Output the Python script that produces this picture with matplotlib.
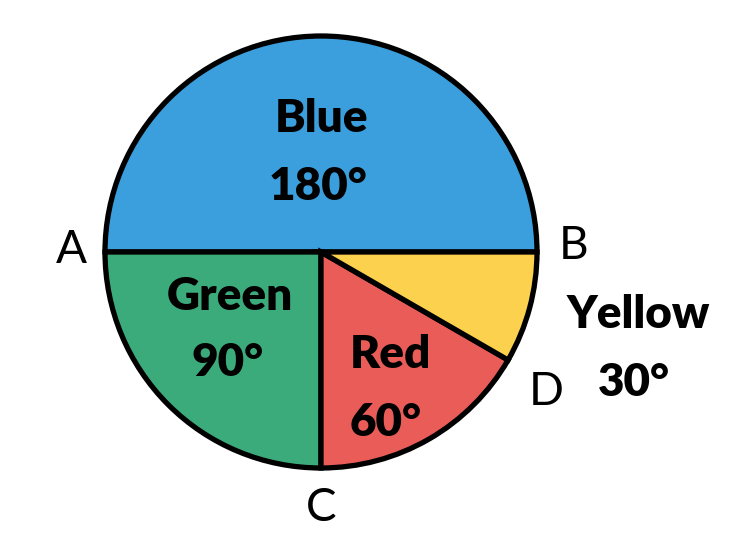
import numpy as np
import matplotlib.pyplot as plt

plt.rcParams['font.family'] = ['Lato', 'DejaVu Sans']

#%% Data
names   = ['Blue', 'Green', 'Red', 'Yellow']
angles  = [180, 90, 60, 30]
colors  = ['#3a9fdc', '#3cab7c', '#ea5c57', '#fcd14e']

points  = ['A', 'B', 'C', 'D']

#### Figure
fig = plt.figure(figsize=(7.29, 5.44), dpi=100)
ax  = fig.add_axes([0, 0, 1, 1])

cx, cy, r = 321, 292, 216
ax.pie(angles, colors=colors, startangle=0, counterclock=True,
       center=(cx, cy), radius=r,
       wedgeprops=dict(edgecolor='black', linewidth=3.8))

#### Labels in slices
bold = dict(fontsize=33, fontweight='heavy', ha='center', va='center')
ax.text(322, 426, names[0], **bold)
ax.text(318, 358, '%d°' % angles[0], **bold)
ax.text(230, 247, names[1], **bold)
ax.text(228, 181, '%d°' % angles[1], **bold)
ax.text(390, 189, names[2], **bold)
ax.text(386, 122, '%d°' % angles[2], **bold)
ax.text(638, 229, names[3], **bold)
ax.text(634, 162, '%d°' % angles[3], **bold)

#### Point letters
reg = dict(fontsize=33, ha='center', va='center')
ax.text(71, 294, points[0], **reg)
ax.text(574, 298, points[1], **reg)
ax.text(321, 36, points[2], **reg)
ax.text(546, 152, points[3], **reg)

ax.set_xlim(0, 729)
ax.set_ylim(0, 544)
ax.set_aspect('equal')
ax.axis('off')

fig.savefig('out.png', dpi=100)
